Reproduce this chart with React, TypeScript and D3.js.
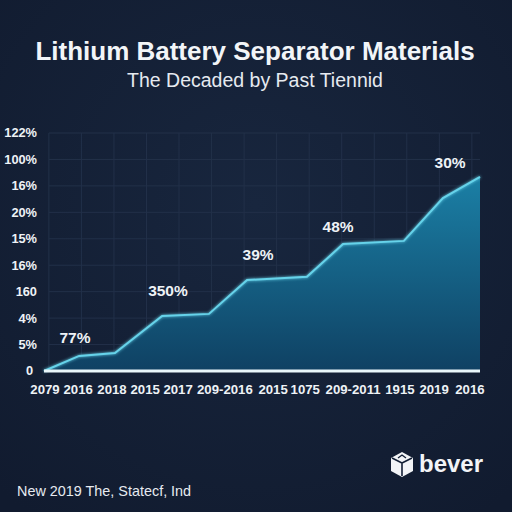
import React from "react";
import * as d3 from "d3";

const title = "Lithium Battery Separator Materials";
const subtitle = "The Decaded by Past Tiennid";
const footer = "New 2019 The, Statecf, Ind";
const brand = "bever";

const yTickLabels = ["0", "5%", "4%", "160", "16%", "15%", "20%", "16%", "100%", "122%"];
const xTickLabels = ["2079", "2016", "2018", "2015", "2017", "209-2016", "2015", "1075", "209-2011", "1915", "2019", "2016"];
const xTickPos = [0.03, 1.05, 2.09, 3.11, 4.12, 5.56, 7.04, 8.03, 9.5, 10.94, 11.99, 13.09];

const seriesX = [0, 1.08, 2.18, 3.63, 5.07, 6.24, 8.08, 9.19, 11.06, 12.26, 13.4];
const seriesY = [0, 0.57, 0.68, 2.08, 2.16, 3.44, 3.56, 4.8, 4.92, 6.54, 7.34];

const annText = ["77%", "350%", "39%", "48%", "30%"];
const annX = [0.95, 3.81, 6.58, 9.04, 12.48];
const annY = [1.25, 3.03, 4.39, 5.48, 7.87];

const gridCols = d3.range(14).map((i) => i + 0.15);

export default function App() {
  const W = 512, H = 512;
  const x = d3.scaleLinear().domain([0, 13.4]).range([44, 480]);
  const y = d3.scaleLinear().domain([0, 9]).range([371, 133]);
  const pts = seriesX.map((v, i) => [v, seriesY[i]] as [number, number]);
  const area = d3.area<[number, number]>().x((d) => x(d[0])).y0(y(0)).y1((d) => y(d[1]));
  const line = d3.line<[number, number]>().x((d) => x(d[0])).y((d) => y(d[1]));
  const font = "'Liberation Sans', Arial, Helvetica, sans-serif";

  return (
    <svg width={W} height={H} style={{ position: "absolute", left: 0, top: 0 }} fontFamily={font}>
      <defs>
        <radialGradient id="bg" cx="50%" cy="40%" r="75%">
          <stop offset="0%" stopColor="#18263e" />
          <stop offset="100%" stopColor="#111b2f" />
        </radialGradient>
        <linearGradient id="fill" gradientUnits="userSpaceOnUse" x1={0} y1={y(7.4)} x2={0} y2={y(0)}>
          <stop offset="0%" stopColor="#1b80a6" />
          <stop offset="100%" stopColor="#0f4163" />
        </linearGradient>
        <filter id="glow" x="-10%" y="-10%" width="120%" height="120%">
          <feGaussianBlur stdDeviation="1.5" result="b" />
          <feMerge>
            <feMergeNode in="b" />
            <feMergeNode in="SourceGraphic" />
          </feMerge>
        </filter>
      </defs>
      <rect width={W} height={H} fill="url(#bg)" />

      <text x={255} y={60} textAnchor="middle" fill="#f2f5f8" fontSize={26} fontWeight="bold">{title}</text>
      <text x={255} y={87} textAnchor="middle" fill="#e6eaf0" fontSize={19.5}>{subtitle}</text>

      {yTickLabels.map((_, i) => (
        <line key={"h" + i} x1={x(0.15)} x2={480} y1={y(i)} y2={y(i)} stroke="#223049" strokeWidth={1} />
      ))}
      {gridCols.map((c, i) => (
        <line key={"v" + i} x1={x(c)} x2={x(c)} y1={y(9)} y2={y(0)} stroke="#223049" strokeWidth={1} />
      ))}

      <path d={area(pts) || ""} fill="url(#fill)" />
      <path d={line(pts) || ""} fill="none" stroke="#66d3ea" strokeWidth={2} filter="url(#glow)" />
      <line x1={x(0)} x2={x(13.4)} y1={y(0)} y2={y(0)} stroke="#e9f6fa" strokeWidth={3} />

      {yTickLabels.map((t, i) => (
        <text key={"yl" + i} x={i === 0 ? 33 : 37} y={y(i)} dy="0.35em" textAnchor="end" fill="#eef2f6" fontSize={12.8} fontWeight="bold">{t}</text>
      ))}
      {xTickLabels.map((t, i) => (
        <text key={"xl" + i} x={x(xTickPos[i])} y={394} textAnchor="middle" fill="#eef2f6" fontSize={13.2} fontWeight="bold">{t}</text>
      ))}
      {annText.map((t, i) => (
        <text key={"a" + i} x={x(annX[i])} y={y(annY[i])} dy="0.35em" textAnchor="middle" fill="#eef2f6" fontSize={15.5} fontWeight="bold">{t}</text>
      ))}

      <g transform="translate(402,464)">
        <path d="M0,-12 L11,-6 L11,7 L0,13 L-11,7 L-11,-6 Z" fill="#f2f4f7" />
        <path d="M0,-1 L0,12 M0,-1 L-10,-6 M0,-1 L10,-6" stroke="#131f35" strokeWidth={1.6} fill="none" />
        <path d="M-4,-6 L0,-9 L4,-6" stroke="#131f35" strokeWidth={1.4} fill="none" />
      </g>
      <text x={419} y={472} fill="#f2f4f7" fontSize={24} fontWeight="bold">{brand}</text>

      <text x={17} y={496} fill="#e6eaf0" fontSize={14.4}>{footer}</text>
    </svg>
  );
}
